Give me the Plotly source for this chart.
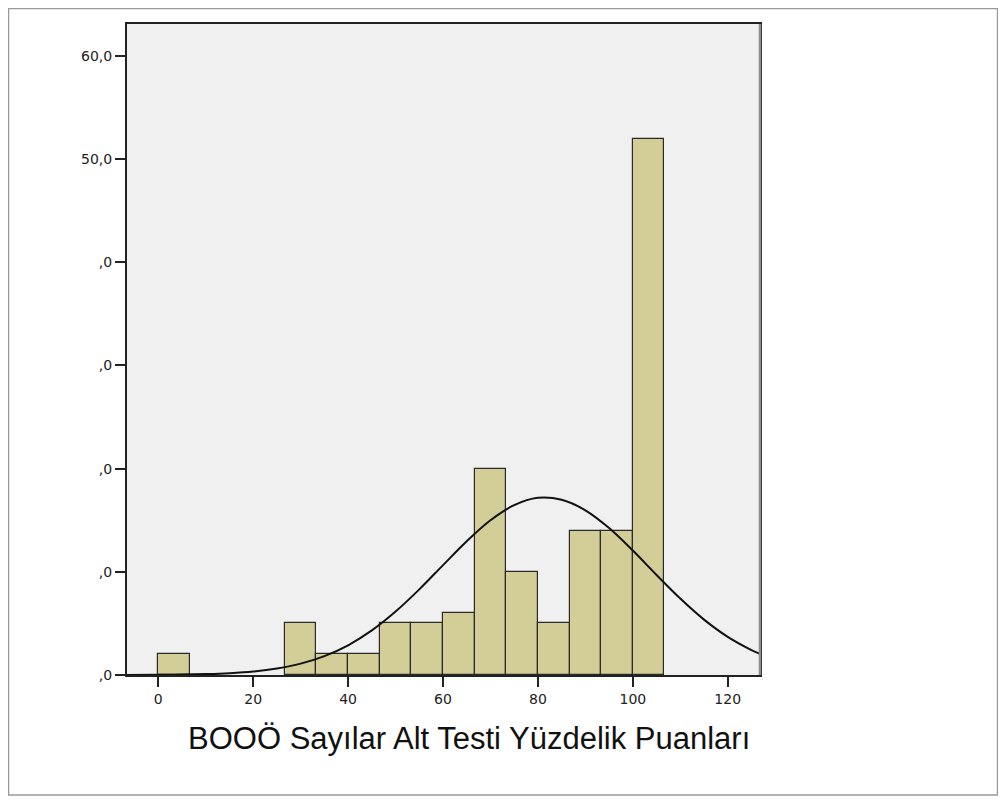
import plotly.graph_objects as go

# histogram bins (width 100/15) and bar heights
bin_starts = [0.0, 26.667, 33.333, 40.0, 46.667, 53.333, 60.0, 66.667, 73.333, 80.0, 86.667, 93.333, 100.0]
bin_width = 6.667
counts = [2, 5, 2, 2, 5, 5, 6, 20, 10, 5, 14, 14, 52]

# fitted normal curve
curve_x = [-6.6, 0, 5, 10, 15, 20, 25, 30, 35, 40, 45, 50, 55, 60, 65, 70, 75, 80,
           85, 90, 95, 100, 105, 110, 115, 120, 125, 126.8]
curve_y = [0.01, 0.02, 0.04, 0.09, 0.18, 0.34, 0.63, 1.10, 1.83, 2.88, 4.32, 6.15, 8.30, 10.65,
           12.97, 15.0, 16.46, 17.17, 16.98, 15.96, 14.24, 12.06, 9.70, 7.41, 5.37, 3.70, 2.42, 2.05]

x_ticks = [0, 20, 40, 60, 80, 100, 120]
y_ticks = [0, 10, 20, 30, 40, 50, 60]
y_tick_labels = [",0", ",0", ",0", ",0", ",0", "50,0", "60,0"]

x_title = "BOOÖ Sayılar Alt Testi Yüzdelik Puanları"

fig = go.Figure()

fig.add_trace(go.Bar(
    x=[s + bin_width / 2 for s in bin_starts], y=counts, width=bin_width,
    marker=dict(color="#d3ce97", line=dict(color="#2a2a2a", width=1.2)),
    showlegend=False, hoverinfo="skip"
))

fig.add_trace(go.Scatter(
    x=curve_x, y=curve_y, mode="lines",
    line=dict(color="#111111", width=2, shape="spline"),
    showlegend=False, hoverinfo="skip"
))

W, H = 990, 791
ml, mt, pw, ph = 119, 16, 633, 651
mr, mb = W - ml - pw, H - mt - ph

def px_x(p):
    return (p - ml) / pw

def px_y(p):
    return (H - mb - p) / ph

# outer border of the chart frame
fig.add_shape(type="rect", xref="paper", yref="paper",
              x0=px_x(0.5), x1=px_x(989.5), y0=px_y(787), y1=px_y(0.5),
              line=dict(color="#9a9a9a", width=1.5), layer="below")
# right edge of the plot frame is grey
fig.add_shape(type="line", xref="paper", yref="paper", x0=1, x1=1, y0=0, y1=1,
              line=dict(color="#8c8c8c", width=2.5))

fig.add_annotation(text=x_title, xref="paper", yref="paper",
                   x=px_x(461), y=px_y(730), xanchor="center", yanchor="middle",
                   showarrow=False, font=dict(size=31, color="#111111",
                                              family="Liberation Sans, Arial, sans-serif"))

fig.update_layout(
    width=W, height=H,
    margin=dict(l=ml, r=mr, t=mt, b=mb),
    paper_bgcolor="white", plot_bgcolor="#f0f0f0",
    font=dict(family="DejaVu Sans, sans-serif", color="#222222"),
    bargap=0,
)

fig.update_xaxes(
    range=[-6.6, 126.8], tickvals=x_ticks, ticktext=[str(v) for v in x_ticks],
    ticks="outside", ticklen=10, tickwidth=1.5, tickcolor="#222222",
    showline=True, linecolor="#222222", linewidth=2, mirror=True,
    showgrid=False, zeroline=False, tickfont=dict(size=14, color="#222222"),
)

fig.update_yaxes(
    range=[0, 63.1], tickvals=y_ticks, ticktext=y_tick_labels,
    ticks="outside", ticklen=10, tickwidth=1.5, tickcolor="#222222",
    showline=True, linecolor="#222222", linewidth=2, mirror=True,
    showgrid=False, zeroline=False, tickfont=dict(size=14, color="#222222"),
)

fig.write_html("out.html")
